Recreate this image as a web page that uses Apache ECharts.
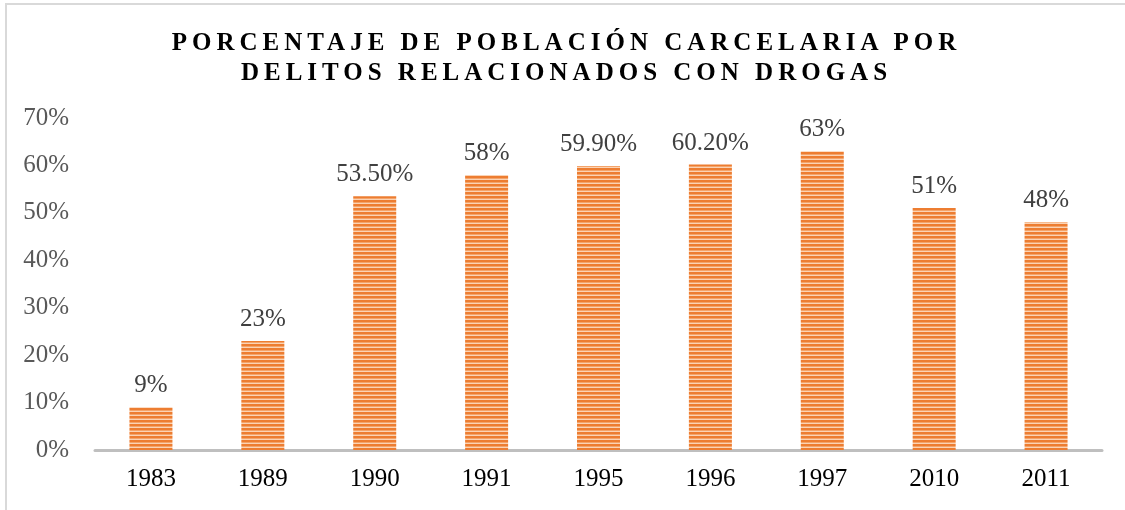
<!DOCTYPE html>
<html>
<head>
<meta charset="utf-8">
<script src="https://cdn.jsdelivr.net/npm/echarts@6/dist/echarts.min.js"></script>
<style>
  html, body { margin: 0; padding: 0; background: #fff; }
  #wrap { position: relative; width: 1125px; height: 510px; overflow: hidden; }
  #frame { position: absolute; left: 5px; top: 3px; width: 1130px; height: 520px; border: 2px solid #d9d9d9; box-sizing: border-box; }
  #main { position: absolute; left: 0; top: 0; width: 1125px; height: 510px; }
  #title {
    position: absolute; left: 4px; top: 27px; width: 1125px; text-align: center;
    font-family: "Liberation Serif", serif; font-weight: bold; font-size: 25px;
    letter-spacing: 5px; line-height: 30px; color: #000;
  }
</style>
</head>
<body>
<div id="wrap">
  <div id="frame"></div>
  <div id="main"></div>
  <div id="title">PORCENTAJE DE POBLACIÓN CARCELARIA POR<br>DELITOS RELACIONADOS CON DROGAS</div>
</div>
<script>
  var years = ['1983', '1989', '1990', '1991', '1995', '1996', '1997', '2010', '2011'];
  var values = [9, 23, 53.5, 58, 59.9, 60.2, 63, 51, 48];
  var labels = ['9%', '23%', '53.50%', '58%', '59.90%', '60.20%', '63%', '51%', '48%'];

  // striped fill for the bars
  function makeStripes() {
    var c = document.createElement('canvas');
    c.width = 4;
    c.height = 4;
    var ctx = c.getContext('2d');
    ctx.fillStyle = '#fbd3b4';
    ctx.fillRect(0, 0, 4, 4);
    ctx.fillStyle = '#f4a46a';
    ctx.fillRect(0, 2, 4, 1);
    ctx.fillStyle = '#ed7d31';
    ctx.fillRect(0, 0, 4, 2);
    return c;
  }

  var myChart = echarts.init(document.getElementById('main'));
  var option = {
    animation: false,
    grid: { left: 95, right: 23, top: 118, bottom: 60 },
    xAxis: {
      type: 'category',
      data: years,
      axisLine: { lineStyle: { color: '#bfbfbf', width: 3 } },
      axisTick: { show: false },
      axisLabel: {
        color: '#000',
        fontFamily: 'Liberation Serif',
        fontSize: 25,
        margin: 17
      }
    },
    yAxis: {
      type: 'value',
      min: 0,
      max: 70,
      interval: 10,
      splitLine: { show: false },
      axisLine: { show: false },
      axisTick: { show: false },
      axisLabel: {
        color: '#595959',
        fontFamily: 'Liberation Serif',
        fontSize: 25,
        margin: 26,
        formatter: '{value}%'
      }
    },
    series: [{
      type: 'bar',
      data: values,
      barWidth: 43,
      itemStyle: {
        color: { image: makeStripes(), repeat: 'repeat' }
      },
      label: {
        show: true,
        position: 'top',
        distance: 9,
        color: '#404040',
        fontFamily: 'Liberation Serif',
        fontSize: 25,
        formatter: function (p) { return labels[p.dataIndex]; }
      }
    }]
  };
  myChart.setOption(option);
</script>
</body>
</html>
